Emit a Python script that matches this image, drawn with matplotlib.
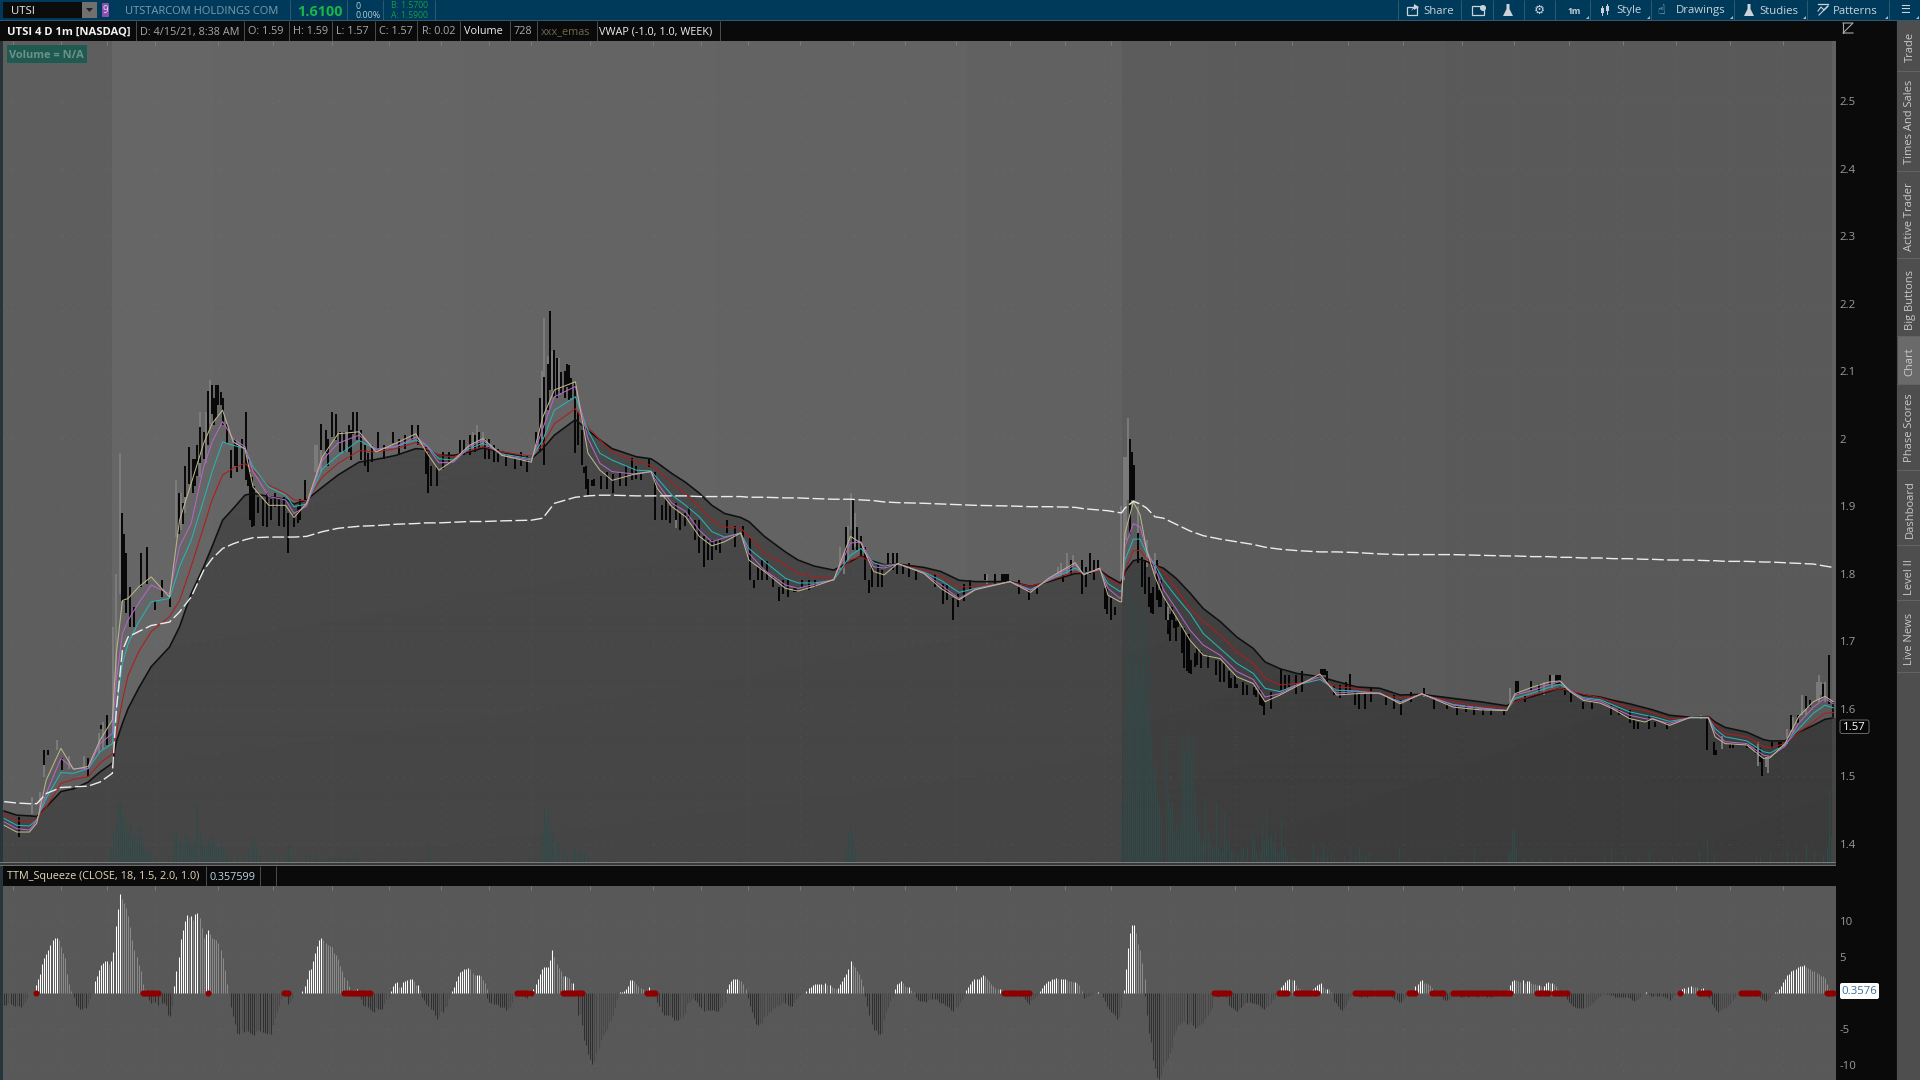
import numpy as np
import matplotlib
matplotlib.use("Agg")
import matplotlib.pyplot as plt
from matplotlib.patches import Rectangle, FancyBboxPatch, Polygon, Circle

plt.rcParams['font.family'] = ['Open Sans', 'DejaVu Sans']
plt.rcParams['lines.scale_dashes'] = False

# ---------- data (x = 1-minute bar number) ----------
ema_bar = [2,8,14,17.5,22,29,35,42,47.6,53.5,
 55.4,58.3,61,66,72,80.7,85.5,91,97,101,
 106,111,116.6,120.5,128,136,140,146,153.5,161,
 171,179,188.5,198,203,209,216,223.5,230,239,
 253,258.5,264,274,280,285.7,291.5,303,310,313,
 320,326.5,333,339,345,352.7,356.6,364,374,380,
 387.7,397,405,410,416,421,427.5,440,448,456.7,
 464.5,481,490.7,499.4,512,516,523.7,527.6,533.4,534.1,
 535.7,539.7,542.9,546,550,554,560,566.7,573,581,
 588.9,596.8,602.4,609.5,617.5,628.6,636.5,646,657,666.7,
 677,692,705,717.5,721.5,730,737.3,742.9,747.6,754,
 762,768.3,776,783.4,787,795,805,813.5,816.7,821.5,
 831.8,839.7,842.9,850,856.5,863.5,869,873]
ema_black = [1.448,1.442,1.441,1.44,1.454,1.477,1.481,1.491,1.506,1.519,
 1.551,1.578,1.6,1.63,1.662,1.691,1.721,1.77,1.81,1.84,
 1.879,1.896,1.916,1.919,1.914,1.91,1.903,1.909,1.928,1.946,
 1.965,1.969,1.975,1.985,1.984,1.975,1.975,1.98,1.986,1.98,
 1.97,1.985,2.005,2.028,2.012,1.998,1.985,1.973,1.97,1.964,
 1.948,1.935,1.919,1.901,1.889,1.883,1.877,1.855,1.832,1.82,
 1.811,1.805,1.818,1.826,1.818,1.813,1.814,1.809,1.803,1.79,
 1.788,1.788,1.781,1.788,1.8,1.8,1.805,1.796,1.786,1.787,
 1.803,1.819,1.821,1.818,1.812,1.808,1.793,1.771,1.748,1.729,
 1.706,1.689,1.669,1.659,1.652,1.647,1.64,1.632,1.63,1.62,
 1.621,1.615,1.61,1.604,1.611,1.618,1.625,1.63,1.625,1.62,
 1.617,1.612,1.607,1.601,1.598,1.59,1.587,1.588,1.58,1.572,
 1.565,1.554,1.552,1.552,1.565,1.575,1.584,1.586]
ema_red = [1.443,1.434,1.432,1.437,1.454,1.489,1.495,1.499,1.519,1.533,
 1.563,1.612,1.649,1.684,1.714,1.736,1.76,1.81,1.869,1.909,
 1.946,1.956,1.963,1.953,1.931,1.919,1.909,1.908,1.943,1.963,
 1.982,1.98,1.985,1.994,1.985,1.975,1.973,1.982,1.988,1.98,
 1.974,1.99,2.022,2.044,2.017,1.998,1.98,1.966,1.96,1.953,
 1.935,1.918,1.899,1.879,1.869,1.867,1.855,1.83,1.813,1.8,
 1.795,1.793,1.82,1.825,1.815,1.813,1.814,1.805,1.796,1.78,
 1.781,1.787,1.781,1.789,1.803,1.8,1.804,1.793,1.783,1.783,
 1.805,1.834,1.834,1.822,1.813,1.803,1.778,1.748,1.729,1.709,
 1.684,1.667,1.645,1.635,1.637,1.643,1.632,1.63,1.622,1.615,
 1.62,1.61,1.603,1.6,1.61,1.62,1.626,1.63,1.626,1.621,
 1.616,1.61,1.601,1.597,1.594,1.585,1.586,1.587,1.577,1.563,
 1.558,1.544,1.542,1.548,1.565,1.58,1.593,1.594]
ema_cyan = [1.437,1.427,1.426,1.435,1.467,1.505,1.504,1.511,1.536,1.548,
 1.602,1.667,1.696,1.728,1.758,1.763,1.81,1.849,1.909,1.951,
 1.995,1.99,1.985,1.958,1.928,1.916,1.899,1.903,1.955,1.975,
 1.997,1.984,1.988,1.998,1.99,1.97,1.968,1.985,1.993,1.977,
 1.97,1.998,2.042,2.062,2.012,1.978,1.968,1.953,1.952,1.941,
 1.916,1.901,1.884,1.862,1.854,1.86,1.837,1.818,1.793,1.786,
 1.786,1.79,1.827,1.837,1.816,1.811,1.814,1.802,1.79,1.772,
 1.778,1.788,1.776,1.79,1.808,1.8,1.806,1.785,1.773,1.775,
 1.82,1.851,1.851,1.83,1.813,1.79,1.766,1.741,1.711,1.689,
 1.667,1.652,1.63,1.625,1.635,1.643,1.627,1.626,1.622,1.61,
 1.621,1.606,1.601,1.597,1.615,1.623,1.631,1.636,1.626,1.616,
 1.613,1.605,1.595,1.59,1.588,1.581,1.586,1.586,1.57,1.558,
 1.552,1.536,1.534,1.546,1.57,1.593,1.605,1.601]
ema_magenta = [1.432,1.422,1.42,1.434,1.474,1.526,1.511,1.511,1.548,1.563,
 1.642,1.711,1.731,1.756,1.783,1.77,1.84,1.874,1.958,1.995,
 2.025,2.0,1.988,1.951,1.914,1.909,1.889,1.9,1.968,1.993,
 2.005,1.984,1.988,2.002,1.99,1.964,1.965,1.988,1.997,1.975,
 1.968,2.015,2.062,2.077,2.0,1.963,1.951,1.947,1.951,1.934,
 1.904,1.892,1.864,1.847,1.853,1.86,1.83,1.805,1.783,1.778,
 1.784,1.791,1.845,1.847,1.81,1.808,1.814,1.801,1.783,1.763,
 1.777,1.788,1.775,1.791,1.813,1.799,1.806,1.778,1.763,1.766,
 1.84,1.874,1.869,1.835,1.808,1.776,1.748,1.716,1.694,1.679,
 1.655,1.643,1.617,1.622,1.635,1.647,1.623,1.625,1.622,1.609,
 1.622,1.605,1.6,1.597,1.62,1.627,1.635,1.64,1.627,1.614,
 1.611,1.601,1.59,1.585,1.584,1.578,1.587,1.586,1.565,1.551,
 1.548,1.531,1.529,1.544,1.578,1.602,1.615,1.607]
ema_tan = [1.427,1.417,1.417,1.43,1.494,1.541,1.51,1.514,1.553,1.583,
 1.681,1.76,1.763,1.78,1.795,1.765,1.879,1.933,1.993,2.022,
 2.042,1.995,1.985,1.928,1.901,1.901,1.883,1.904,1.973,2.007,
 2.01,1.98,1.993,2.007,1.98,1.953,1.968,1.99,2.0,1.975,
 1.965,2.032,2.072,2.084,1.978,1.953,1.938,1.948,1.951,1.926,
 1.899,1.884,1.855,1.841,1.847,1.86,1.82,1.803,1.778,1.774,
 1.781,1.791,1.855,1.845,1.803,1.798,1.815,1.8,1.778,1.761,
 1.776,1.788,1.772,1.793,1.816,1.798,1.808,1.768,1.758,1.758,
 1.86,1.906,1.887,1.835,1.795,1.766,1.736,1.701,1.679,1.674,
 1.647,1.637,1.61,1.62,1.633,1.651,1.62,1.622,1.623,1.607,
 1.622,1.602,1.598,1.597,1.622,1.632,1.639,1.641,1.625,1.612,
 1.608,1.599,1.585,1.58,1.585,1.575,1.587,1.587,1.558,1.548,
 1.546,1.526,1.527,1.548,1.588,1.61,1.618,1.61]
vwap = [1.462,1.46,1.459,1.459,1.474,1.483,1.484,1.485,1.491,1.504,
 1.598,1.686,1.706,1.714,1.723,1.728,1.743,1.765,1.805,1.822,
 1.837,1.844,1.85,1.853,1.854,1.854,1.854,1.855,1.862,1.867,
 1.87,1.871,1.873,1.874,1.875,1.875,1.876,1.877,1.877,1.878,
 1.879,1.882,1.904,1.913,1.915,1.916,1.916,1.915,1.915,1.915,
 1.915,1.915,1.914,1.914,1.914,1.914,1.913,1.913,1.912,1.912,
 1.911,1.91,1.91,1.909,1.908,1.906,1.905,1.904,1.903,1.902,
 1.901,1.9,1.899,1.899,1.898,1.896,1.894,1.893,1.89,1.89,
 1.897,1.907,1.903,1.897,1.884,1.882,1.873,1.863,1.856,1.851,
 1.847,1.843,1.839,1.836,1.834,1.832,1.832,1.831,1.829,1.828,
 1.828,1.828,1.827,1.826,1.826,1.825,1.825,1.824,1.824,1.823,
 1.823,1.822,1.822,1.821,1.821,1.82,1.82,1.819,1.819,1.818,
 1.818,1.817,1.817,1.816,1.815,1.814,1.811,1.809]

down_bar = [9,21,23,29.5,42,48,51,58,59,60,62,64,67,70,74,77,81,85,87,88,90,92,95,97,101,104,105,108,110,117,
 120,123,127,131,135,137,140,145,153,155,158,160,167,168,170,172,175,180,187,196,203,204,208,219,221,228,231,233,241,251,
 255,259,261,262,264,267,270,271,274,277,278,280,282,292,301,305,309,312,315,322,328,333,335,341,346,357,359,365,368,371,
 378,379,382,403,406,408,410,412,414,418,420,423,427,430,436,451,454,469,477,478,479,480,490,506,515,519,523,526,529,531,
 538,539,540,542,544,547,548,551,552,555,556,558,561,563,566,567,569,579,583,586,589,597,598,601,602,610,614,617,629,630,631,635,643,647,650,667,678,689,702,
 716,722,723,726,729,733,738,741,742,743,745,748,754,758,767,771,776,778,780,785,788,794,813,816,817,824,825,832,836,838,839,844,847,848,853,856,860,862,868,871,873]
down_high = [1.44,1.539,1.539,1.526,1.526,1.575,1.59,1.889,1.859,1.83,1.78,1.75,1.83,1.84,1.76,1.79,1.765,1.919,1.904,1.96,1.988,1.97,2.017,2.01,2.079,2.079,2.069,2.022,1.983,2.04,
 1.943,1.914,1.919,1.919,1.914,1.889,1.886,1.938,2.022,2.012,2.04,2.037,2.012,2.04,2.04,2.012,1.978,2.01,2.01,2.02,1.988,1.978,1.958,1.998,1.998,2.01,2.0,2.0,1.98,1.975,
 2.01,2.091,2.11,2.189,2.131,2.099,2.11,2.109,2.082,2.013,1.958,1.94,1.939,1.948,1.971,1.949,1.971,1.951,1.901,1.904,1.899,1.879,1.855,1.85,1.879,1.852,1.79,1.818,1.795,1.78,
 1.778,1.778,1.79,1.869,1.909,1.869,1.855,1.84,1.79,1.815,1.805,1.83,1.83,1.813,1.803,1.783,1.763,1.8,1.8,1.8,1.8,1.8,1.776,1.798,1.82,1.83,1.82,1.778,1.763,1.751,
 2.0,1.98,1.961,1.86,1.825,1.795,1.771,1.82,1.776,1.761,1.731,1.751,1.731,1.721,1.711,1.672,1.682,1.672,1.667,1.645,1.637,1.632,1.627,1.617,1.612,1.658,1.65,1.65,1.659,1.659,1.659,1.635,1.651,1.622,1.622,1.613,1.63,1.607,1.603,
 1.598,1.641,1.641,1.62,1.641,1.637,1.649,1.649,1.649,1.649,1.63,1.625,1.61,1.61,1.605,1.6,1.598,1.583,1.58,1.59,1.58,1.578,1.587,1.551,1.538,1.548,1.548,1.548,1.541,1.541,1.528,1.551,1.551,1.551,1.59,1.59,1.618,1.612,1.637,1.679,1.61]
down_low = [1.41,1.516,1.531,1.509,1.499,1.569,1.546,1.76,1.76,1.741,1.721,1.721,1.78,1.785,1.746,1.765,1.75,1.859,1.874,1.914,1.933,1.919,1.963,1.97,2.037,2.05,2.049,1.993,1.941,1.938,
 1.869,1.889,1.869,1.899,1.869,1.83,1.869,1.909,1.983,1.978,2.002,1.998,1.968,2.007,1.998,1.968,1.951,1.983,1.993,1.998,1.948,1.919,1.929,1.975,1.975,1.985,1.97,1.97,1.96,1.951,
 1.99,1.961,2.042,2.072,2.062,2.067,2.077,2.057,1.978,1.961,1.949,1.916,1.929,1.919,1.939,1.939,1.958,1.879,1.879,1.879,1.882,1.83,1.81,1.835,1.86,1.79,1.778,1.79,1.78,1.76,
 1.772,1.772,1.78,1.815,1.835,1.835,1.825,1.79,1.771,1.78,1.78,1.81,1.8,1.8,1.79,1.761,1.731,1.79,1.788,1.788,1.788,1.788,1.761,1.788,1.77,1.8,1.808,1.748,1.731,1.739,
 1.859,1.909,1.909,1.815,1.78,1.751,1.741,1.761,1.751,1.731,1.711,1.731,1.721,1.682,1.652,1.651,1.662,1.65,1.64,1.63,1.631,1.62,1.617,1.603,1.59,1.627,1.632,1.622,1.65,1.65,1.65,1.62,1.627,1.6,1.6,1.59,1.62,1.6,1.59,
 1.59,1.62,1.62,1.61,1.627,1.625,1.635,1.637,1.637,1.637,1.62,1.61,1.6,1.6,1.59,1.59,1.578,1.57,1.57,1.57,1.573,1.57,1.538,1.531,1.531,1.541,1.541,1.541,1.533,1.521,1.5,1.541,1.541,1.541,1.568,1.578,1.6,1.602,1.617,1.607,1.588]

more_down_bar = [93,94,99,102,103,106,112,113,115,118,119,121,125,129,133,142,143,156,162,164,166,174,177,183,190,193,199,205,211,214,224,226,235,237,245,248,
 257,265,269,272,275,279,283,286,289,295,298,303,317,319,324,326,331,337,339,343,350,354,361,363,373,375,385,388,415,425,433,445,449,456,459,462,474,485,494,510,517,521,527,
 545,549,553,557,559,560,564,565,570,572,575,581,585,588,592,594,600,605,612,620,632,638,641,645,653,660,664,672,683,694,698,706,710]
more_down_high = [1.97,1.99,2.07,2.06,2.08,2.06,2.0,1.99,2.0,1.97,1.95,1.93,1.91,1.91,1.91,1.9,1.91,2.0,2.01,2.01,2.02,1.99,1.99,1.99,2.0,2.005,2.02,1.96,1.98,1.98,2.005,2.005,1.99,1.985,1.975,1.98,
 2.06,2.12,2.1,2.09,2.04,1.96,1.94,1.945,1.95,1.95,1.96,1.96,1.91,1.9,1.89,1.89,1.88,1.85,1.85,1.85,1.87,1.87,1.81,1.82,1.79,1.79,1.79,1.79,1.81,1.83,1.815,1.8,1.785,1.77,1.785,1.79,1.8,1.79,1.785,1.82,1.81,1.82,1.78,
 1.82,1.78,1.79,1.74,1.74,1.73,1.72,1.71,1.69,1.685,1.68,1.67,1.655,1.65,1.64,1.635,1.63,1.625,1.65,1.655,1.655,1.635,1.64,1.625,1.63,1.62,1.62,1.625,1.615,1.605,1.605,1.6,1.6]
more_down_low = [1.93,1.945,1.99,2.02,2.03,2.02,1.96,1.95,1.955,1.93,1.88,1.87,1.87,1.88,1.87,1.875,1.88,1.96,1.98,1.98,1.98,1.96,1.965,1.97,1.975,1.985,1.99,1.93,1.955,1.965,1.975,1.98,1.965,1.965,1.955,1.96,
 1.98,2.06,2.06,2.06,1.99,1.925,1.93,1.925,1.925,1.93,1.93,1.94,1.88,1.875,1.865,1.87,1.85,1.82,1.82,1.83,1.84,1.85,1.79,1.79,1.77,1.765,1.775,1.78,1.78,1.805,1.795,1.78,1.755,1.75,1.76,1.775,1.785,1.77,1.77,1.8,1.78,1.79,1.74,
 1.77,1.74,1.75,1.7,1.72,1.7,1.66,1.655,1.665,1.66,1.66,1.64,1.63,1.63,1.62,1.62,1.605,1.6,1.625,1.625,1.64,1.615,1.62,1.605,1.61,1.605,1.6,1.61,1.6,1.59,1.595,1.59,1.59]

up_bar = [15,19,21,27,47,54,55,57,84,86,95,98,100,151,227,259,261,322,400,405,504,511,535,536,537,678,719,740,841,851,854,865,867,
 33,40,49,88,150,153,165,225,230,258,263,266,402,404,407,470,505,508,534,538,542,546,550,556,575,735,739,810,820,837,842,858,860,866,869]
up_high = [1.469,1.477,1.528,1.553,1.563,1.721,1.8,1.978,1.938,1.919,2.04,2.04,2.086,1.99,2.02,2.178,2.122,1.904,1.84,1.919,1.81,1.827,1.973,1.973,2.03,1.63,1.63,1.649,1.528,1.57,1.588,1.64,1.64,
 1.53,1.53,1.58,1.95,1.99,2.0,2.01,2.01,2.01,2.1,2.13,2.12,1.83,1.87,1.89,1.8,1.815,1.83,1.9,2.0,1.9,1.85,1.83,1.75,1.68,1.64,1.65,1.59,1.56,1.55,1.53,1.62,1.61,1.65,1.64]
up_low = [1.444,1.444,1.499,1.538,1.533,1.563,1.642,1.77,1.854,1.864,1.943,1.963,2.022,1.943,1.993,2.072,2.057,1.867,1.805,1.864,1.795,1.813,1.79,1.85,1.909,1.617,1.607,1.64,1.514,1.548,1.563,1.612,1.62,
 1.51,1.51,1.54,1.89,1.95,1.95,1.98,1.98,1.99,2.0,2.07,2.07,1.8,1.82,1.84,1.785,1.795,1.8,1.79,1.9,1.84,1.81,1.8,1.72,1.66,1.62,1.63,1.585,1.54,1.515,1.505,1.59,1.59,1.61,1.61]

vol_bar = [14,22,25,28,32,45,52,53,54,55,56,57,58,59,60,61,62,63,64,65,66,67,68,69,70,71,72,74,77,80,
 83,84,85,86,87,88,89,90,91,92,93,94,95,96,97,98,99,100,101,102,103,104,105,106,107,108,110,113,116,118,
 120,121,122,124,127,130,133,136,137,138,140,145,147,150,153,156,159,162,165,168,170,176,184,191,198,204,212,225,238,246,
 252,256,258,259,260,261,262,263,265,266,268,270,273,274,275,276,277,278,280,290,310,330,352,375,390,403,404,405,406,407,
 420,440,470,500,520,534,535,536,537,538,539,540,541,542,543,544,545,546,547,548,549,550,551,552,553,555,556,557,558,559,
 560,561,562,563,564,565,566,567,568,569,570,571,572,573,574,575,576,577,578,579,580,581,582,583,584,585,586,587,589,591,
 592,594,596,597,598,600,601,602,603,604,605,606,607,608,609,610,611,612,613,615,616,618,620,625,627,629,630,632,634,635,
 640,643,645,647,648,650,652,656,658,660,666,671,675,680,688,690,696,702,708,714,718,719,720,721,722,725,729,733,738,745,
 750,755,764,767,774,780,785,790,796,802,809,813,816,825,836,838,843,851,855,860,864,868,870,871,872]
vol_val = [100,60,50,50,40,50,80,150,300,420,590,590,480,450,350,300,380,250,280,220,340,250,180,120,100,140,80,60,50,60,
 240,300,200,180,100,280,200,240,160,180,240,590,300,220,180,160,220,200,260,180,140,150,200,140,90,60,40,60,80,120,
 250,200,140,80,60,90,50,80,180,60,40,60,70,100,50,60,80,60,50,90,50,40,30,40,30,200,40,30,40,30,
 50,80,300,540,420,500,340,280,200,180,120,80,100,150,140,120,100,80,60,30,40,30,50,30,40,200,300,350,250,120,
 40,30,50,40,60,600,1500,2800,2000,2900,1700,2600,2000,2900,1800,2300,2570,1500,2100,1300,900,1000,700,600,450,1300,700,550,600,300,
 400,280,400,1250,1100,1300,1150,1050,1250,700,450,300,200,250,640,300,200,150,120,600,150,100,120,500,220,180,120,100,80,170,
 140,160,270,250,100,80,390,220,530,250,280,200,300,100,80,430,150,160,80,50,50,40,30,170,60,50,190,80,120,40,
 60,160,60,160,60,70,100,30,40,30,140,50,30,40,60,30,40,130,30,30,80,120,320,320,140,40,50,40,60,50,
 40,30,60,140,80,60,100,50,60,40,120,240,80,30,60,60,100,120,80,190,120,80,140,720,250]

squeeze_start = [2,17,35,45,70,83,110,137,144,167,172,186,201,215,232,250,254,275,295,
 300,308,313,346,356,384,412,426,436,460,483,495,516,523,525,535,545,578,584,
 591,610,625,635,645,663,673,687,718,746,800,814,838,845]
squeeze_seg = [
 [-1.6,-1.6,-1.4,-1.5,-1.7,-1.8,-1.6,-1.8,-1.9,-1.7,-1.2,-.7],
 [1.1,2,2.7,4,4.8,5.4,6,6.6,7.3,7.6,7.6,7.4,6.4,5.5,4.8,2.6,1.2,.3],
 [-.5,-1.7,-2,-2.2,-2.2,-2,-2.1,-1.5,-.7],
 [1.7,2.4,3.2,3.9,4.2,4.4,4.4,4,4.4,5.7,9.3,11.6,13.75,13,12.5,11.8,10.7,9.2,7.4,6,5,3.9,3.1,1.3,.6],
 [-.3,-1,-1.4,-1.2,-1.3,-1.6,-.6,-1.4,-1.4,-1.7,-3,-3.2,-1.8],
 [1,3,5,7.5,8.7,10,10.8,10.6,10.7,10.1,11,11.1,10.4,9,7.7,8.2,8.7,8.2,7.6,7.5,7.4,7,6,4.8,3.2,1.3],
 [-2,-3.2,-4.3,-5.5,-5.7,-5.2,-5.4,-5.3,-5.3,-5.5,-5.7,-5.9,-5.3,-5.1,-5.3,-5.4,-5.5,-5.7,-5.6,-5.7,-4.5,-3.5,-2.7,-1.8,-.8,-.3],
 [-1.5,-1.3,-.7],
 [.3,1,1.9,3.2,3.3,4.4,5.5,6.5,7.4,7.7,7.3,7,6.6,6.5,6.4,5.6,5.3,4.7,3.7,3,2.2,1.8,1],
 [.3,.4,.4,.5],
 [-.8,-1.6,-1.8,-2,-2.2,-2.5,-2.7,-2,-2.2,-2.2,-2.2,-1.4,-.9,-.5],
 [.3,1,1.4,1.5,.8,.9,1.5,1.6,1.8,1.9,1.9,1.7,1.1,1.1,.4],
 [-.6,-1,-1.5,-1.8,-2.2,-2.3,-3,-3.6,-3.2,-2.5,-2.6,-2,-1.8,-.7],
 [.3,.8,1.6,2.3,2.9,3,3.3,3.4,3.5,3.3,2.8,2.5,2.5,2.5,2.3,1.8,1.4,.5],
 [-.7,-1.2,-1.4,-1.5,-1.5,-1.7,-1.9,-2,-2,-2.3,-2.1,-2,-1.2,-.6],
 [-.5,-.7],
 [.5,1.2,2,2.7,3.3,3.6,3.6,3.6,4.6,6,5,4,3.5,3,2.3,2.3,2.2,2.1,1.4,1.4,.4],
 [-3,-2.9,-4.5,-6.5,-7.2,-8.5,-9.2,-9.9,-9.4,-8.3,-7.7,-6.5,-5.9,-5.4,-5,-4,-3.7,-3,-1.9,-.8],
 [.1,.1,.3,.6,1,1.5],
 [1.8,1.8,1.7,1.3,1,.7,.5,.3],
 [.4,.8],
 [-1.2,-1.8,-2.6,-3.1,-3.1,-3.1,-3,-3.4,-3.8,-3.8,-3.8,-3.5,-3.3,-2.8,-1.5,-1.2,-1,-.7,-1,-1.3,-1.8,-2.1,-2.5,-2.4,-2.4,-2.4,-2.4,-2.4,-2.5,-2.5,-2.1,-1.9,-1.2],
 [.55,1.25,1.6,1.9,1.9,1.9,1.8,1.6,1.25,.5],
 [-.65,-1.8,-2.6,-3.5,-4.35,-4.5,-4.2,-4.1,-3.4,-3,-2.7,-2.5,-2.1,-2,-1.7,-1.6,-1.5,-1.3,-1.4,-1.7,-1.8,-1.8,-1.3,-.9,-.6,-.3],
 [.3,.65,.8,1.05,1.25,1.25,1.25,1.25,1.05,1.35,1.05,1.1,.8,.65,.5,.65,1.25,1.65,2.2,2.7,3.3,4.45,3.9,3.65,3.1,2.6,2,1],
 [-.4,-1.75,-3,-4.3,-5.2,-5.2,-5.7,-5.7,-5.6,-3.8,-2.7,-1.9,-1.1,-.5],
 [.55,1.25,1.45,1.65,1.35,1,.8,.8,.4,.15],
 [-.6,-1,-1.1,-1.1,-1.1,-1.25,-1,-.8,-.8,-.8,-.9,-1.25,-1.35,-1.4,-1.7,-1.8,-1.9,-2.4,-2.45,-2,-1.8,-1.2,-.9,-.4],
 [.35,.8,1.25,1.6,1.95,2,2,2.2,2.45,2.3,2,1.65,1.25,1,.65,.55,.55,.4],
 [-.4,-.4,-.4,-.3,-.4,-.8,-1.2,-1.5,-1,-.8,-.6,-.3],
 [.25,.7,1.15,1.45,1.6,1.6,1.9,2,2.05,1.9,2,2,2,1.8,1.65,1.6,1.5,1.5,1.35,1.1,.3],
 [-.75,-.5,-.4,-.3,-.15],
 [.15],
 [-.55,-1.1,-1.8,-2.25,-2.7,-2.8,-3,-3.55,-3.4,-2.1],
 [.4,3.4,6.3,8.4,9.4,9.4,8.3,6.75,6,4.1,1.9],
 [-.4,-3,-5.5,-6.8,-9.3,-10.4,-11.6,-12,-11.4,-10.2,-9.5,-9,-8.3,-7.5,-5.8,-5.2,-4.4,-4.3,-4,-3.85,-4.3,-4.1,-4,-4.45,-4.8,-4.7,-4.5,-4.3,-4.1,-3.5,-3,-2.5,-2.1],
 [-.3,-.4,-.5,-.4,-.4,-.3],
 [-.5,-1.6,-1.9,-2.1,-2.3,-2.5,-2.2,-1.9,-1.7,-1.4,-1.2],
 [-1.9,-1.4,-1.2,-1.3,-1.3,-1.35,-1.4,-1.5,-1.5,-1.8,-2.1,-2.2,-2,-1.8,-1.4,-.9,-.6,-.3],
 [.8,1.1,1.5,1.75,1.95,1.8,1.8,1.1,.7,.6],
 [.5,.8,1.1,1.25,1.35,.8,.6,.6,.5,.2],
 [-1.05,-1.35,-1.8,-2.2,-2.35,-2.1,-1.65,-1,-.4],
 [-.2,-.3,-.4,-.5,-.4,-.4,-.5,-.3,-.3,-.2,-.3,-.3,-.2,-.1,-.2,-.2,-.1],
 [-.5,-.9,-1,-1.2,-1.2,-.9,-.6,-.2],
 [.3,.95,1.25,1.7,1.75,1.45,1.4,1.3,1.1,.7,.3],
 [-.9,-1,-1,-.8,-.5,-.4,-.3,-.3,-.5,-.6,-.5,-.4,-.5,-.4,-.3,-.3,-.4,-.5,-.4,-.3,-.3,-.5,-.4,-.5,-.3,-.2],
 [.4,1.1,1.6,1.85,1.75,1.6,1.5,1.75,1.4,1.6,1.6,1.4,1.3,1.2,1.1,1.1,1,1,1.4,1.5,1.4,1.4,1.2,1,.6],
 [-.8,-1.2,-1.5,-1.8,-1.9,-2.05,-2.05,-2.1,-2.1,-1.9,-1.75,-1.7,-1.4,-1.2,-.9,-.6,-.4,-.2,-.15,-.2,-.2,-.3,-.3,-.5,-.6,-.6,-.6,-.6,-.6,-.6,-.7,-1,-1.15,-1,-.8,-.5,-.2,0,.1,-.15,-.35,-.4,-.3,-.45,-.45,-.4,-.4,-.5,-.7,-.95,-.7,-.3,-.1],
 [.3,.6,.7,.55,.8,.95,.9,.85,.8,.3,.55,.65,.2],
 [-.7,-1.5,-2,-2.4,-2.7,-2.4,-2.2,-2.1,-1.9,-1.7,-1.5,-1,-.6,-.2],
 [-.5,-.9,-1,-1.1,-1,-.7,-.2],
 [.15,.2,.5,1,1.5,2,2.5,2.7,3,3.2,3.4,3.6,3.8,3.8,3.9,3.6,3.5,3.3,3.1,3,2.8,2.7,2.4,2.3,2.1,1.3,.5],
]
squeeze_on_from = [17,68,99,135,164,246,253,268,308,478,578,609,617,645,671,682,692,695,712,732,740,800,809,829,833,870]
squeeze_on_to =   [17,75,99,137,176,251,253,277,312,490,585,613,627,663,674,687,694,711,719,737,746,800,814,832,837,873]

price_ticks = [1.4,1.5,1.6,1.7,1.8,1.9,2.0,2.1,2.2,2.3,2.4,2.5]
price_labels = ['1.4','1.5','1.6','1.7','1.8','1.9','2','2.1','2.2','2.3','2.4','2.5']
squeeze_ticks = [-10,-5,0,5,10]
squeeze_labels = ['-10','-5','0','5','10']
session_bars = [6,29,51,74,104,130,158,185,210,233,253,281,311,334,356,381,406,431,455,481,507,529,557,588,615,642,668,696,721,747,773,798,824,849]

tab_names = ['Trade','Times And Sales','Active Trader','Big Buttons','Chart','Phase Scores','Dashboard','Level II','Live News']
last_price = 1.57
last_squeeze = 0.3576

# ---------- layout ----------
W, H = 1920, 1080
fig = plt.figure(figsize=(W/100, H/100), dpi=100, facecolor='#0a0a0a')
def axpx(x0, y0, x1, y1, **kw):
    return fig.add_axes([x0/W, 1-y1/H, (x1-x0)/W, (y1-y0)/H], **kw)

XLIM = (3/2.1, 1836/2.1)
PR = (1.3726, 2.5889)
SQ = (-12.08, 14.86)
label_col = '#9a9a9a'

# ---------- price panel ----------
ax = axpx(3, 41, 1836, 862, zorder=2)
ax.set_xlim(XLIM); ax.set_ylim(PR)
ax.set_facecolor('#5f5f5f')
pos = np.array([0, 108, 109, 1118, 1119, 1833])
shade = np.array([94, 94, 102, 98, 92, 89]) / 255
bg = np.interp(np.arange(1833), pos, shade).reshape(1, -1)
ax.imshow(bg, extent=(XLIM[0], XLIM[1], PR[0], PR[1]), aspect='auto', cmap='gray',
          vmin=0, vmax=1, zorder=0, interpolation='nearest')

pos2 = np.array([0, 1118, 1119, 1833])
top_sh = np.array([74, 72, 68, 64])
bot_sh = np.array([70, 69, 62, 59])
gx = np.arange(1833)
gt = np.interp(gx, pos2, top_sh); gb = np.interp(gx, pos2, bot_sh)
grad = np.linspace(0, 1, 200)[:, None] * (gb - gt)[None, :] + gt[None, :]
im = ax.imshow(grad/255, extent=(XLIM[0], XLIM[1], PR[0], 2.03), aspect='auto', cmap='gray',
               vmin=0, vmax=1, zorder=1, origin='upper')
xs = np.r_[XLIM[0], ema_bar, XLIM[1], XLIM[1], XLIM[0]]
ys = np.r_[ema_black[0], ema_black, ema_black[-1], PR[0], PR[0]]
clip = Polygon(np.c_[xs, ys], closed=True, transform=ax.transData, fc='none', ec='none')
ax.add_patch(clip)
im.set_clip_path(clip)
ax.set_xlim(XLIM); ax.set_ylim(PR)

ax.set_xticks(session_bars)
ax.set_yticks(price_ticks, price_labels)
ax.tick_params(axis='x', length=3, direction='in', top=True, bottom=False, labelbottom=False, color='#808080', width=.6)
ax.grid(True, color='white', alpha=0.07, linestyle=(0, (1, 5)), linewidth=.6, zorder=1.5)
ax.set_axisbelow(False)
for s in ax.spines.values():
    s.set_visible(False)

# volume on its own scale
axv = ax.twinx()
axv.set_ylim(0, 8210)
axv.vlines(vol_bar, 0, vol_val, color='#2c4c4a', lw=0.7, zorder=2)
axv.set_yticks([]); axv.set_xlim(XLIM)
for s in axv.spines.values():
    s.set_visible(False)
axv.set_zorder(ax.get_zorder()+1); axv.patch.set_visible(False)
ax.yaxis.tick_right()
ax.tick_params(axis='y', length=0, pad=2.5, labelsize=8.2, labelcolor=label_col, labelright=True, labelleft=False)

axl = axpx(3, 41, 1836, 862, zorder=4)
axl.patch.set_visible(False); axl.axis('off')
axl.set_xlim(XLIM); axl.set_ylim(PR)
axl.vlines(up_bar, up_low, up_high, color='#7e7e7e', lw=1.3, zorder=3)
axl.vlines(down_bar, down_low, down_high, color='#000000', lw=1.3, zorder=3)
axl.vlines(more_down_bar, more_down_low, more_down_high, color='#000000', lw=1.3, zorder=3)
axl.plot(ema_bar, ema_black, color='#101010', lw=1.15, zorder=5)
axl.plot(ema_bar, ema_red, color='#b01c1c', lw=.75, zorder=6)
axl.plot(ema_bar, ema_cyan, color='#25b5b5', lw=.75, zorder=7)
axl.plot(ema_bar, ema_magenta, color='#b565c8', lw=.75, zorder=8)
axl.plot(ema_bar, ema_tan, color='#bdb68c', lw=.75, zorder=9)
axl.plot(ema_bar, vwap, color='#ececec', lw=1.0, dashes=(8.5, 2.5), zorder=10)

# ---------- squeeze panel ----------
axs = axpx(3, 886, 1836, 1080, zorder=2)
axs.set_facecolor('#585858')
axs.set_xlim(XLIM); axs.set_ylim(SQ)
axs.set_xticks(session_bars)
axs.set_yticks(squeeze_ticks, squeeze_labels)
axs.yaxis.tick_right()
axs.tick_params(axis='y', length=0, pad=2.5, labelsize=8.2, labelcolor=label_col)
axs.tick_params(axis='x', length=3, direction='in', top=True, bottom=False, labelbottom=False, color='#808080', width=.6)
axs.grid(True, color='white', alpha=0.07, linestyle=(0, (1, 5)), linewidth=.6)
axs.set_axisbelow(True)
for s in axs.spines.values():
    s.set_visible(False)
for start, seg in zip(squeeze_start, squeeze_seg):
    bars = np.arange(len(seg)) + start
    vals = np.array(seg, float)
    prev = np.r_[0.0, vals[:-1]]
    cols = np.where(vals >= 0, np.where(vals >= prev, '#ffffff', '#8a8a8a'),
                    np.where(vals <= prev, '#2f2f2f', '#484848'))
    axs.vlines(bars, 0, vals, colors=list(cols), lw=.75, zorder=3)
for a, b in zip(squeeze_on_from, squeeze_on_to):
    xx = np.arange(a, b+1)
    axs.plot(xx, np.zeros_like(xx), color='#8e0000', lw=3.6 if b > a else 0, solid_capstyle='round', zorder=4,
             marker='o', ms=4.4, mec='none', mfc='#8e0000')

# ---------- application chrome ----------
ui = fig.add_axes([0, 0, 1, 1], zorder=10)
ui.set_xlim(0, W); ui.set_ylim(H, 0); ui.axis('off'); ui.patch.set_visible(False)
def rect(x0, y0, x1, y1, c, **kw):
    ui.add_patch(Rectangle((x0, y0), x1-x0, y1-y0, fc=c, ec='none', **kw))
def vline(x, y0, y1, c='#2c5a72', lw=.7):
    ui.plot([x, x], [y0, y1], color=c, lw=lw, solid_capstyle='butt')
def txt(x, y, s, c='#c8c8c8', fs=8.2, **kw):
    kw.setdefault('va', 'center')
    ui.text(x, y, s, color=c, fontsize=fs, **kw)

rect(0, 0, W, 20, '#003a5a')
rect(0, 20, W, 21, '#2f5a70')
rect(0, 21, 1836, 41, '#0a0a0a')
rect(0, 41, 3, 1080, '#26343c')
rect(0, 862, 1836, 866, '#3a3a3a')
rect(0, 862, 1836, 863, '#7a7a7a')
rect(0, 865, 1836, 866, '#6e6e6e')
rect(3, 866, 1836, 886, '#0a0a0a')
rect(1832, 41, 1836, 862, (1, 1, 1, .05))

# symbol box
rect(3, 2, 82, 18, '#0c0c0c')
rect(82, 2, 97, 18, '#707070')
ui.add_patch(Polygon([(86, 8), (93, 8), (89.5, 12)], fc='#222222', ec='none'))
txt(11, 11.5, 'UTSI', '#e8e8e8', 8.2)
ui.add_patch(FancyBboxPatch((103, 4), 5, 12, boxstyle='round,pad=1', fc='#8a4fb0', ec='none'))
txt(105.5, 10.5, '9', '#e8d8f0', 7, ha='center')
txt(125, 11, 'UTSTARCOM HOLDINGS COM', '#7f9bab', 8.05)
txt(297, 11.5, '1.6100', '#19b548', 10.4, fontweight='bold')
txt(355, 6.5, '0', '#b9c7cf', 6.4)
txt(355, 15, '0.00%', '#b9c7cf', 6.4)
txt(391, 6, 'B: 1.5700', '#1a9a45', 6.2)
txt(391, 15, 'A: 1.5900', '#1a9a45', 6.2)
for x in [290, 347, 383, 435]:
    vline(x, 0, 20)

for x in [1398, 1461, 1493, 1524, 1555, 1590, 1651, 1734, 1807, 1889]:
    vline(x, 0, 20)
tool_col = '#c9d3d9'
txt(1423, 11, 'Share', tool_col, 8.2)
txt(1616, 11, 'Style', tool_col, 8.2)
txt(1676, 11, 'Drawings', tool_col, 8.2)
txt(1759, 11, 'Studies', tool_col, 8.2)
txt(1833, 11, 'Patterns', tool_col, 8.2)
txt(1568, 11, '1m', tool_col, 6.2, fontweight='bold')
txt(1539, 10, '\u2699', tool_col, 9, ha='center', family='DejaVu Sans')
txt(1905, 10, '\u2630', tool_col, 8, ha='center', family='DejaVu Sans')
txt(1661, 10, '\u261D', tool_col, 9, ha='center', family='DejaVu Sans')
for cx in [1508, 1749]:
    ui.add_patch(Polygon([(cx-1.5, 4), (cx+1.5, 4), (cx+1.5, 9), (cx+5, 16), (cx-5, 16), (cx-1.5, 9)],
                         fc=tool_col, ec='none'))
ui.add_patch(Rectangle((1407, 7), 10, 8, fc='none', ec=tool_col, lw=.9))
ui.add_patch(Polygon([(1411, 11), (1414, 6), (1414, 4), (1419, 7), (1414, 10), (1414, 8.5)], fc=tool_col, ec='none'))
ui.add_patch(Rectangle((1472, 6), 12, 9, fc='none', ec=tool_col, lw=.9))
ui.add_patch(Circle((1483, 8), 3, fc=tool_col, ec='none'))
ui.plot([1602, 1602], [6, 15], color=tool_col, lw=.7)
ui.plot([1607, 1607], [4, 14], color=tool_col, lw=.7)
rect(1600.5, 8, 1603.5, 13, tool_col)
rect(1605.5, 6, 1608.5, 11, tool_col)
ui.plot([1818, 1828], [4, 4], color=tool_col, lw=.9)
ui.plot([1818, 1821, 1824, 1828, 1819], [11, 7, 10, 6, 15], color=tool_col, lw=.8)
for x in [1590, 1651, 1734, 1807, 1889, 1920]:
    ui.add_patch(Polygon([(x-4, 19), (x-1, 19), (x-1, 16)], fc='#a8bcc8', ec='none'))

# study title row
cells = [136, 244, 289, 332, 375, 417, 460, 510, 537, 597, 720]
for x in cells:
    vline(x, 21, 41, '#4e4e4e', .7)
row = 32
fs_row = 7.85
txt(7, row, 'UTSI 4 D 1m [NASDAQ]', '#f2f2f2', 8.1, fontweight='bold')
txt(140, row, 'D: 4/15/21, 8:38 AM', '#a8a8a8', fs_row)
txt(248, row, 'O: 1.59', '#a8a8a8', fs_row)
txt(293, row, 'H: 1.59', '#a8a8a8', fs_row)
txt(336, row, 'L: 1.57', '#a8a8a8', fs_row)
txt(379, row, 'C: 1.57', '#a8a8a8', fs_row)
txt(422, row, 'R: 0.02', '#a8a8a8', fs_row)
txt(464, row, 'Volume', '#eeeeee', fs_row)
txt(514, row, '728', '#a8a8a8', fs_row)
txt(541, row, 'xxx_emas', '#6f6a4c', fs_row)
txt(599, row, 'VWAP (-1.0, 1.0, WEEK)', '#eeeeee', fs_row)

rect(7, 45, 87, 63, '#1f5a52')
txt(9, 55, 'Volume = N/A', '#6f9088', 7.9, fontweight='bold')

for x in [206, 260, 276]:
    vline(x, 866, 886, '#4e4e4e', .7)
txt(7, 877, 'TTM_Squeeze (CLOSE, 18, 1.5, 2.0, 1.0)', '#e2d6b8', 7.85)
txt(210, 877, '0.357599', '#bcd4e6', 7.85)

ui.plot([1843, 1853, 1843, 1853], [23, 23, 33, 33], color='#a8a8a8', lw=.8)
ui.plot([1843, 1843], [23, 33], color='#a8a8a8', lw=.8)

ui.add_patch(FancyBboxPatch((1842, 722), 25, 9.5, boxstyle='round,pad=2', fc='#050505', ec='#6a6a6a', lw=.7))
txt(1854.5, 727.5, f'{last_price:.2f}', '#ffffff', 8.2, ha='center')
ui.add_patch(FancyBboxPatch((1842, 985), 35, 12, boxstyle='round,pad=2', fc='#ffffff', ec='none'))
txt(1859.5, 991, f'{last_squeeze:.4f}', '#3b6f9c', 8.2, ha='center')

# side tabs
rect(1897, 21, W, H, '#4e4e4e')
rect(1895.5, 21, 1897, H, '#101010')
rect(1898, 336, W, 384, '#6a6a6a')
for y in [71, 171, 258, 336, 384, 470, 545, 600, 672]:
    ui.plot([1897, W], [y, y], color='#636363', lw=.7)
tab_y = [47, 122, 217, 300, 362, 428, 509, 577, 639]
for name, y in zip(tab_names, tab_y):
    txt(1910, y, name, '#c9c9c9', 8.0, rotation=90, ha='center')

fig.savefig('out.png', dpi=100, facecolor=fig.get_facecolor())
